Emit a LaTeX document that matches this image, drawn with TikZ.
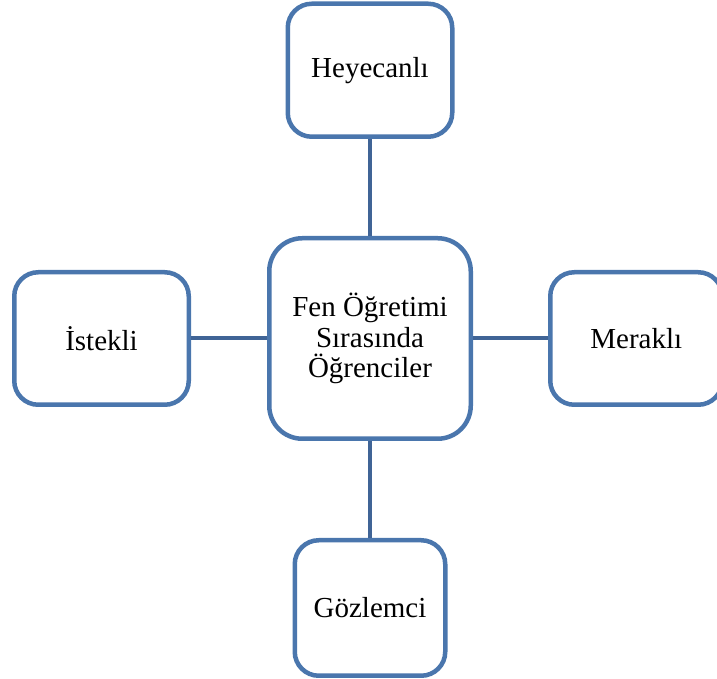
\documentclass[tikz,border=0pt]{standalone}
\usepackage{fontspec}
\setmainfont{Liberation Serif}
\usetikzlibrary{positioning}
\definecolor{boxblue}{RGB}{74,118,173}
\definecolor{linkblue}{RGB}{64,100,150}

\begin{document}
\begin{tikzpicture}[
  box/.style={draw=boxblue, line width=4.5pt, fill=white, rounded corners=24pt, align=center, inner sep=0pt, font=\fontsize{29pt}{30.5pt}\selectfont},
  hub/.style={box, rounded corners=33pt, minimum width=201.5pt, minimum height=200.5pt},
  link/.style={draw=linkblue, line width=4pt}]
\useasboundingbox (0,0) rectangle (717pt,679pt);
\node[hub] (hub) at (370pt,340.5pt) {Fen Öğretimi\\ Sırasında\\ Öğrenciler};
\node[box, minimum width=164.5pt, minimum height=133pt, above=97pt of hub] (hey) {Heyecanlı};
\node[box, minimum width=150.5pt, minimum height=135.5pt, below=97pt of hub] (goz) {Gözlemci};
\node[box, minimum width=174.5pt, minimum height=132.5pt, left=76pt of hub] (ist) {İstekli};
\node[box, minimum width=172pt, minimum height=132.5pt, right=75pt of hub] (mer) {Meraklı};
\foreach \n in {hey,goz,ist,mer} \draw[link] (hub) -- (\n);
\end{tikzpicture}
\end{document}
